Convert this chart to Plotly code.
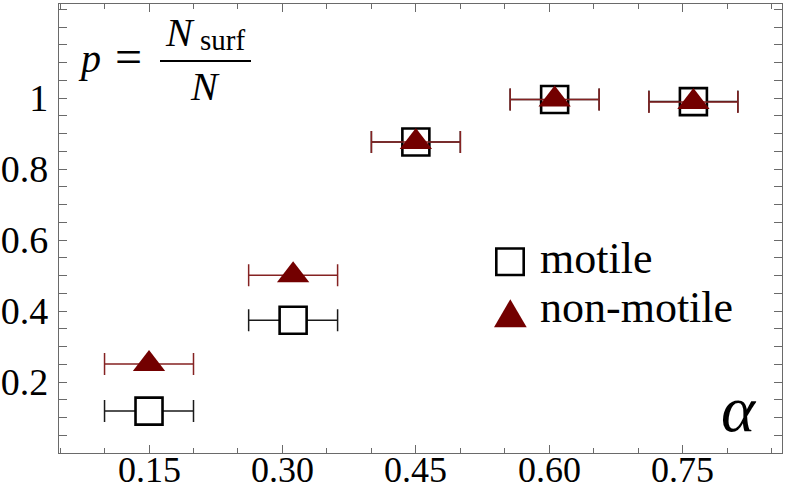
import plotly.graph_objects as go

# ---- data ----
alpha = [0.15, 0.312, 0.45, 0.606, 0.762]
alpha_err = [0.05, 0.05, 0.05, 0.05, 0.05]
p_motile = [0.118, 0.374, 0.876, 0.996, 0.990]
p_nonmotile = [0.251, 0.501, 0.876, 0.996, 0.989]

x_tickvals = [0.15, 0.30, 0.45, 0.60, 0.75]
x_ticktext = ["0.15", "0.30", "0.45", "0.60", "0.75"]
y_tickvals = [0.2, 0.4, 0.6, 0.8, 1.0]
y_ticktext = ["0.2", "0.4", "0.6", "0.8", "1"]

series_names = ["motile", "non-motile"]

# ---- layout geometry ----
W, H = 790, 484
ML, MR, MT, MB = 59, 8, 4, 31
PW, PH = W - ML - MR, H - MT - MB

def px(x):
    return (x - ML) / PW

def py(y):
    return (H - MB - y) / PH

SERIF = "'Liberation Serif', 'Times New Roman', Times, 'DejaVu Serif', serif"
DARKRED = "#730000"
BARRED = "#852222"
AXCOL = "#6a6a6a"

fig = go.Figure()

fig.add_trace(go.Scatter(
    x=alpha, y=p_motile, mode="markers", name=series_names[0],
    marker=dict(symbol="square", size=27, color="white",
                line=dict(color="black", width=2.6)),
    error_x=dict(type="data", array=alpha_err, color="#1a1a1a",
                 thickness=1.5, width=11),
    showlegend=False,
))
fig.add_trace(go.Scatter(
    x=alpha, y=p_nonmotile, mode="markers", name=series_names[1],
    marker=dict(symbol="triangle-up", size=28, color=DARKRED,
                line=dict(width=0)),
    error_x=dict(type="data", array=alpha_err, color=BARRED,
                 thickness=1.5, width=11),
    showlegend=False,
))

axis_common = dict(
    showline=True, linecolor=AXCOL, linewidth=1.3, mirror="ticks",
    ticks="inside", ticklen=8, tickwidth=1.2, tickcolor=AXCOL,
    showgrid=False, zeroline=False, automargin=False,
    tickfont=dict(family=SERIF, color="black"),
)

fig.update_xaxes(
    **axis_common, range=[0.0488, 0.8616],
    tickvals=x_tickvals, ticktext=x_ticktext, showticklabels=False,
    minor=dict(dtick=0.05, tick0=0, ticks="inside", ticklen=5,
               tickcolor=AXCOL, tickwidth=1.2, showgrid=False),
)
fig.update_yaxes(
    **axis_common, range=[0, 1.265],
    tickvals=y_tickvals, ticktext=y_ticktext, ticklabelstandoff=2,
    minor=dict(dtick=0.05, tick0=0, ticks="inside", ticklen=8,
               tickcolor=AXCOL, tickwidth=1.2, showgrid=False),
)
fig.update_yaxes(tickfont_size=38)

ann = []
def text(t, x, y, size, xanchor="center", italic=False, yanchor="middle"):
    ann.append(dict(text=(f"<i>{t}</i>" if italic else t), x=px(x), y=py(y),
                    xref="paper", yref="paper", showarrow=False,
                    xanchor=xanchor, yanchor=yanchor,
                    font=dict(family=SERIF, size=size, color="black")))

# x tick labels (placed close under the axis, cut by the page edge like the reference)
for v, t in zip(x_tickvals, x_ticktext):
    ann.append(dict(text=t, x=v, xref="x", y=py(448), yref="paper",
                    showarrow=False, xanchor="center", yanchor="top",
                    font=dict(family=SERIF, size=36, color="black")))

# formula p = N_surf / N
text("p", 89, 58.5, 40, italic=True)
text("=", 128, 56, 48)
text("N", 180, 32, 40, italic=True)
text("surf", 198, 40, 29, xanchor="left")
text("N", 205, 86.5, 40, italic=True)
# axis symbol
text("α", 739, 409, 65, italic=True)
# legend labels
text(series_names[0], 538, 258.5, 44, xanchor="left")
text(series_names[1], 538, 307, 44, xanchor="left")

shapes = [
    dict(type="line", xref="paper", yref="paper",
         x0=px(160), x1=px(251), y0=py(61), y1=py(61),
         line=dict(color="black", width=2)),
    dict(type="rect", xref="paper", yref="paper",
         x0=px(496.3), x1=px(523.7), y0=py(248.5), y1=py(275),
         fillcolor="white", line=dict(color="black", width=2.6)),
    dict(type="path", xref="paper", yref="paper",
         path=(f"M {px(494)},{py(327.3)} L {px(526.7)},{py(327.3)} "
               f"L {px(510.3)},{py(299.3)} Z"),
         fillcolor=DARKRED, line=dict(width=0)),
]

fig.update_layout(
    width=W, height=H, template="none",
    margin=dict(l=ML, r=MR, t=MT, b=MB, pad=0),
    paper_bgcolor="white", plot_bgcolor="white",
    annotations=ann, shapes=shapes, showlegend=False,
    font=dict(family=SERIF),
)

fig.write_html("out.html", config={"displayModeBar": False},
               post_script="document.body.style.margin='0px';"
                           "document.body.style.padding='0px';")
